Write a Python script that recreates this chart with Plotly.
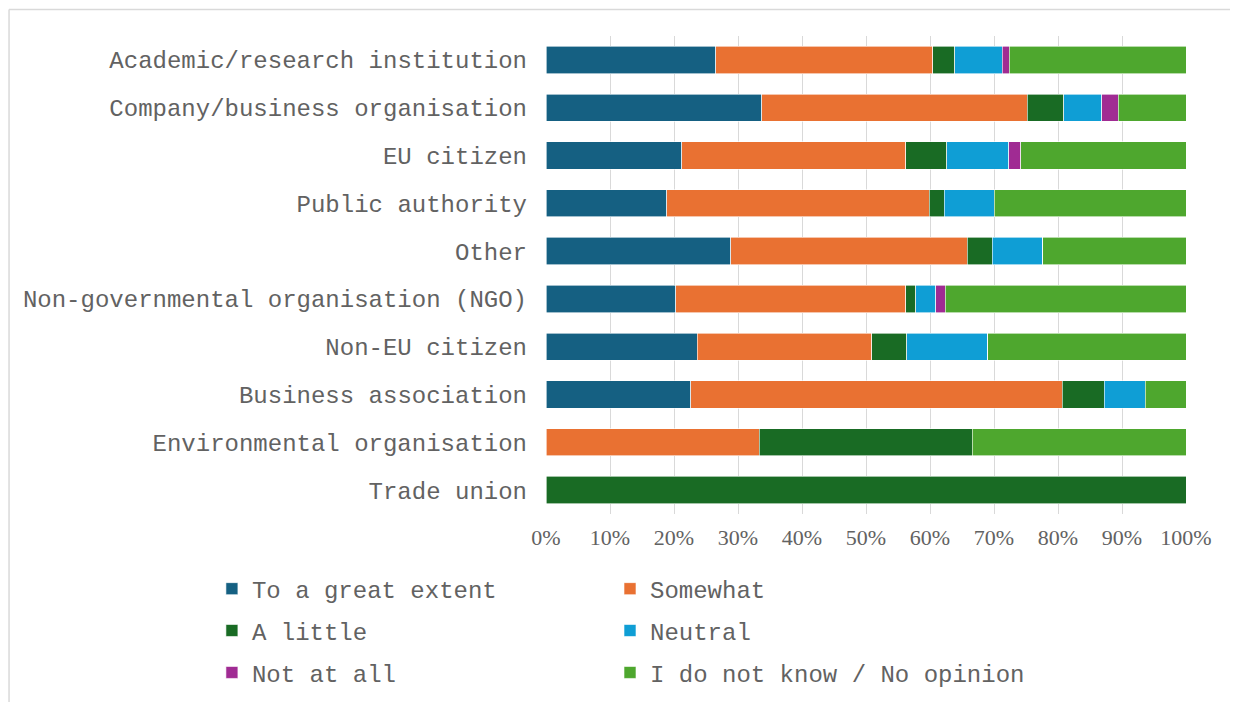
import plotly.graph_objs as go

### categorias (de arriba hacia abajo)
categories = ["Academic/research institution", "Company/business organisation", "EU citizen",
              "Public authority", "Other", "Non-governmental organisation (NGO)", "Non-EU citizen",
              "Business association", "Environmental organisation", "Trade union"]

### porcentajes por respuesta
great_extent = [26.5, 33.7, 21.2, 18.9, 28.9, 20.3, 23.6, 22.6, 0.0, 0.0]
somewhat     = [33.9, 41.5, 35.0, 41.0, 36.9, 35.9, 27.3, 58.1, 33.3, 0.0]
a_little     = [3.5, 5.7, 6.4, 2.3, 3.9, 1.6, 5.5, 6.5, 33.3, 100.0]
neutral      = [7.4, 5.9, 9.7, 7.8, 7.9, 3.1, 12.6, 6.4, 0.0, 0.0]
not_at_all   = [1.1, 2.6, 1.9, 0.0, 0.0, 1.5, 0.0, 0.0, 0.0, 0.0]
no_opinion   = [27.6, 10.6, 25.8, 30.0, 22.4, 37.6, 31.0, 6.4, 33.4, 0.0]

x_ticks = [0, 10, 20, 30, 40, 50, 60, 70, 80, 90, 100]

series_names = ["To a great extent", "Somewhat", "A little", "Neutral",
                "Not at all", "I do not know / No opinion"]
series_vals = [great_extent, somewhat, a_little, neutral, not_at_all, no_opinion]
series_colors = ["#156082", "#E97132", "#196B24", "#0F9ED5", "#A02B93", "#4EA72E"]

gris = "#626262"
mono = "Liberation Mono, Courier New, monospace"

### una leyenda por serie (2 columnas x 3 filas)
leg_x = [-0.522, 0.1]
leg_y = [-0.157, -0.2445, -0.3323]

data = []
legends = {}
for i, (name, vals, color) in enumerate(zip(series_names, series_vals, series_colors)):
    key = "legend" if i == 0 else f"legend{i+1}"
    data.append(go.Bar(y=categories, x=vals, name=name, orientation="h",
                       marker=dict(color=color, line=dict(color="white", width=0.6)),
                       legend=key, showlegend=True, hoverinfo="x+y+name"))
    legends[key] = dict(orientation="h", x=leg_x[i % 2], xanchor="left",
                        y=leg_y[i // 2], yanchor="middle", bgcolor="rgba(0,0,0,0)",
                        font=dict(family=mono, size=24, color=gris))

### marco (solo borde superior e izquierdo, como en el original)
borde = dict(color="#D9D9D9", width=1.5)
marco = [dict(type="line", xref="paper", yref="paper", x0=-0.839, x1=1.094, y0=1.0554, y1=1.0554, line=borde),
         dict(type="line", xref="paper", yref="paper", x0=-0.839, x1=-0.839, y0=1.0554, y1=-0.41, line=borde)]

layout = go.Layout(
    width=1238, height=702, showlegend=True,
    barmode="stack", bargap=0.43,
    margin=dict(l=538, r=60, t=27.5, b=196, autoexpand=False),
    paper_bgcolor="white", plot_bgcolor="white",
    xaxis=dict(range=[0, 100], tickvals=x_ticks, ticktext=[f"{v}%" for v in x_ticks],
               showgrid=True, gridcolor="#D9D9D9", gridwidth=1.3, zeroline=False,
               showline=False, ticks="", ticklabelstandoff=8,
               tickfont=dict(family="Liberation Serif, Times New Roman, serif", size=22, color=gris)),
    yaxis=dict(categoryorder="array", categoryarray=categories, autorange="reversed",
               showgrid=False, zeroline=False, showline=False, ticks="", ticklabelstandoff=18,
               tickfont=dict(family=mono, size=24, color=gris)),
    shapes=marco,
    **legends,
)

fig = go.Figure(data, layout)
fig.write_html("out.html")
